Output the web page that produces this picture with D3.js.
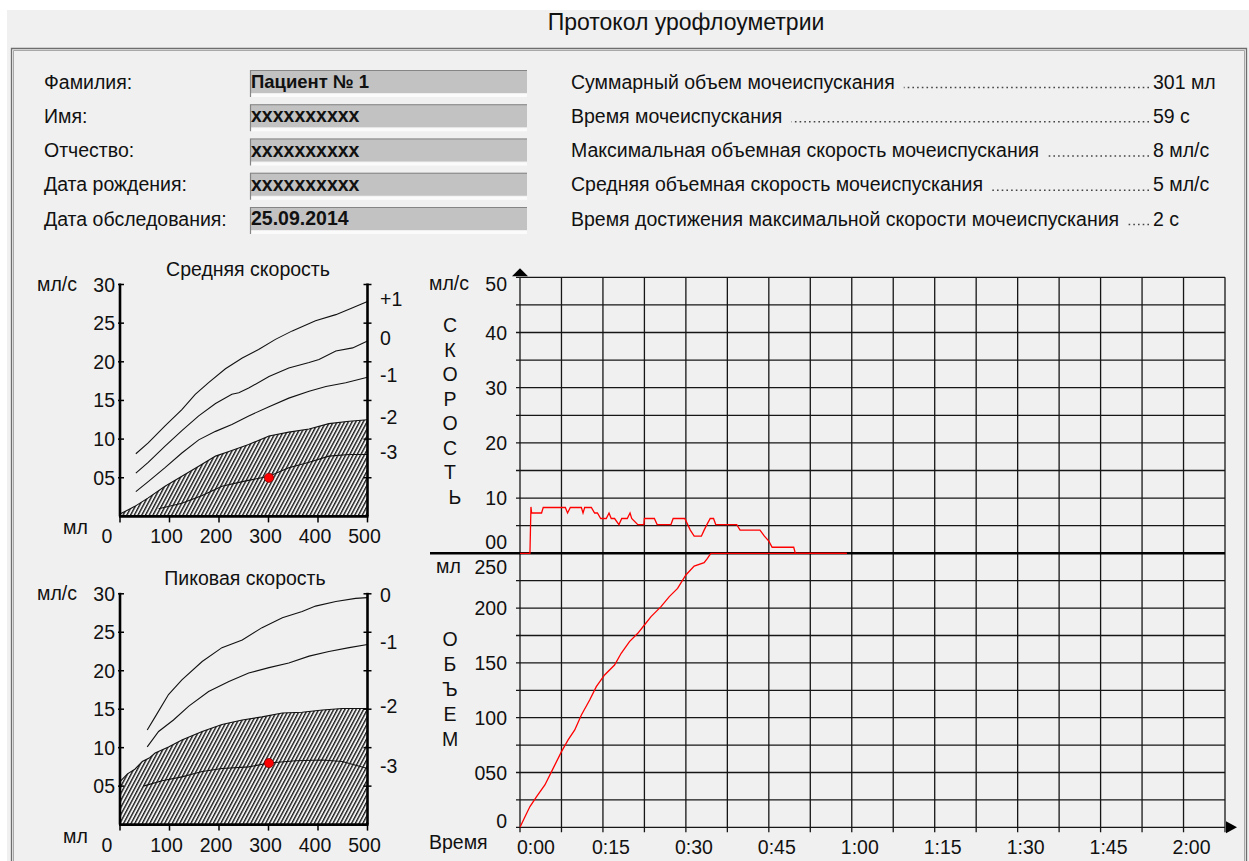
<!DOCTYPE html>
<html><head><meta charset="utf-8">
<script src="https://cdn.jsdelivr.net/npm/d3@7"></script>
<style>
html,body{margin:0;padding:0;background:#fff;}
svg{display:block;font-family:"Liberation Sans",Arial,sans-serif;}
</style></head><body>
<svg id="c" width="1249" height="861"></svg>
<script>
// ---------------- DATA ----------------
const titleText = "Протокол урофлоуметрии";
const patientLabels = ["Фамилия:", "Имя:", "Отчество:", "Дата рождения:", "Дата обследования:"];
const patientValues = ["Пациент № 1", "xxxxxxxxxx", "xxxxxxxxxx", "xxxxxxxxxx", "25.09.2014"];
const summaryLabels = [
  "Суммарный объем мочеиспускания",
  "Время мочеиспускания",
  "Максимальная объемная скорость мочеиспускания",
  "Средняя объемная скорость мочеиспускания",
  "Время достижения максимальной скорости мочеиспускания"
];
const summaryValues = ["301 мл", "59 с", "8 мл/с", "5 мл/с", "2 с"];

// flow (ml/s) vs time (s)
const flowSeries = [[0,0],[1.8,0],[1.98,8.4],[2.1,7.3],[3.9,7.3],[4.2,8.3],[8.2,8.3],[8.6,7.3],[9.1,8.3],[11.1,8.3],[11.4,7.3],[11.7,8.3],[12.9,8.3],[13.5,7.3],[14.0,7.3],[14.6,6.3],[15.6,6.3],[16.1,7.3],[16.5,6.3],[17.1,6.3],[17.9,5.2],[18.4,6.3],[19.4,6.3],[19.9,7.3],[20.2,6.3],[21.3,5.2],[22.4,5.2],[22.5,6.3],[24.3,6.3],[24.8,5.2],[27.3,5.2],[27.7,6.3],[29.8,6.3],[30.8,4.2],[31.5,3.1],[32.8,3.1],[33.3,4.2],[33.8,5.2],[34.4,6.3],[35.0,6.3],[35.4,5.2],[39.2,5.2],[39.8,4.2],[43.4,4.2],[44.2,3.1],[45.0,2.2],[45.6,1.1],[49.5,1.1],[49.8,0],[59.1,0]];
// voided volume (ml) vs time (s); chart clips at 250 ml
const volumeSeries = [[0,0],[0.9,9.7],[1.8,18.9],[3.0,28],[4.5,38.6],[5.7,50.8],[7.5,69],[8.7,79.7],[9.9,88.8],[11.1,102.5],[12.6,116.2],[13.8,128.3],[15.3,139],[17.1,148.1],[18.3,158.8],[19.8,169.4],[21.3,177],[22.5,184.6],[23.7,192.2],[25.5,201.3],[27.0,210.5],[28.5,218],[30.0,230.2],[31.5,238.4],[33.3,241.5],[33.9,245.4],[34.5,250],[59.1,301]];

const speedTicks = [0, 10, 20, 30, 40, 50];
const speedTickLabels = ["00", "10", "20", "30", "40", "50"];
const volumeTicks = [0, 50, 100, 150, 200, 250];
const volumeTickLabels = ["0", "050", "100", "150", "200", "250"];
const timeTicks = [0, 15, 30, 45, 60, 75, 90, 105, 120];
const timeTickLabels = ["0:00", "0:15", "0:30", "0:45", "1:00", "1:15", "1:30", "1:45", "2:00"];
const speedWord = ["С", "К", "О", "Р", "О", "С", "Т", "Ь"];
const volumeWord = ["О", "Б", "Ъ", "Е", "М"];

// nomogram: mean flow vs volume
const avgLevelLabels = ["+1", "0", "-1", "-2", "-3"];
const avgP1 = [[32,8.1],[57,9.5],[91,11.7],[125,13.8],[152,15.8],[179,17.3],[213,19.1],[247,20.5],[280,21.6],[314,22.9],[348,24.0],[395,25.3],[436,26.1],[470,27.0],[500,27.8]];
const avg0  = [[32,5.6],[57,7.0],[91,9.1],[125,11.1],[159,13.0],[193,14.6],[226,15.8],[240,16.0],[260,16.6],[301,18.1],[341,19.2],[382,19.9],[402,20.3],[436,21.4],[470,21.8],[500,22.7]];
const avgM1 = [[32,3.2],[57,4.5],[91,6.3],[125,8.2],[159,9.9],[193,11.0],[226,11.9],[260,13.0],[301,14.2],[341,15.3],[382,16.2],[416,16.8],[456,17.3],[500,18.0]];
const avgM2 = [[0,0.3],[30,1.3],[57,2.4],[91,3.9],[125,5.2],[159,6.5],[193,7.8],[220,8.4],[260,9.3],[301,10.4],[341,10.9],[382,11.3],[422,12.0],[463,12.3],[500,12.5]];
const avgM3 = [[78,1.0],[125,1.7],[166,2.7],[206,3.9],[247,4.5],[301,5.2],[341,6.3],[382,7.0],[422,7.8],[463,8.0],[500,8.0]];
// nomogram: peak flow vs volume
const peakLevelLabels = ["0", "-1", "-2", "-3"];
const pk0  = [[55,12.3],[71,14.0],[98,16.9],[125,18.8],[166,21.2],[206,23.0],[247,24.0],[287,25.6],[328,26.9],[368,27.7],[395,28.4],[436,29.0],[476,29.4],[500,29.5]];
const pkM1 = [[55,10.1],[78,12.1],[108,13.6],[139,15.4],[179,17.3],[220,18.6],[260,19.7],[301,20.4],[341,21.0],[382,21.9],[422,22.5],[463,23.0],[500,23.4]];
const pkM2 = [[0,5.6],[15,6.6],[30,7.2],[45,8.2],[60,8.7],[71,9.3],[98,10.1],[125,11.0],[166,12.1],[206,13.0],[247,13.6],[287,14.0],[328,14.5],[368,14.6],[409,14.9],[449,15.1],[500,15.1]];
const pkM3 = [[47,5.0],[85,5.7],[125,6.2],[166,6.9],[206,7.3],[260,7.5],[301,8.0],[355,8.3],[409,8.4],[449,8.2],[500,7.3]];
const nomoVolTicks = [0, 100, 200, 300, 400, 500];
const nomoFlowTicks = [5, 10, 15, 20, 25, 30];
const nomoFlowLabels = ["05", "10", "15", "20", "25", "30"];
const patientPointAvg = [301, 5];
const patientPointPeak = [301, 8];

// ---------------- DRAW ----------------
const svg = d3.select("#c");
const FS = 19.5;
const defs = svg.append("defs");
const pat = defs.append("pattern").attr("id", "hatch").attr("patternUnits", "userSpaceOnUse")
  .attr("width", 3.3).attr("height", 10).attr("patternTransform", "rotate(28)");
pat.append("rect").attr("width", 3.3).attr("height", 10).attr("fill", "#f0f0f0");
pat.append("line").attr("x1", 0.7).attr("x2", 0.7).attr("y1", 0).attr("y2", 10)
  .attr("stroke", "#0e0e0e").attr("stroke-width", 1.3);

svg.append("rect").attr("width", 1249).attr("height", 861).attr("fill", "#fff");
svg.append("rect").attr("x", 7).attr("y", 10).attr("width", 1242).attr("height", 851).attr("fill", "#f0f0f0");
svg.append("path").attr("d", "M11.5,861 V48.5 H1246.5 V861").attr("fill", "none").attr("stroke", "#6e6e6e").attr("stroke-width", 1.3);
svg.append("path").attr("d", "M13.5,861 V50.5 H1244.5 V861").attr("fill", "none").attr("stroke", "#a8a8a8").attr("stroke-width", 1);

svg.append("text").attr("x", 686).attr("y", 30).attr("text-anchor", "middle")
  .attr("font-size", 23).attr("fill", "#111").text(titleText);

// header rows
const rowTop = i => 70 + i * 34.25;
patientLabels.forEach((lab, i) => {
  const y = rowTop(i);
  svg.append("text").attr("x", 44).attr("y", y + 18.5).attr("font-size", FS).attr("fill", "#111").text(lab);
  svg.append("rect").attr("x", 250).attr("y", y).attr("width", 277).attr("height", 23).attr("fill", "#c2c2c2");
  svg.append("rect").attr("x", 251).attr("y", y + 24).attr("width", 276).attr("height", 3).attr("fill", "#fbfbfb");
  svg.append("path").attr("d", `M250.5,${y + 27} V${y + 0.5} H527`).attr("fill", "none").attr("stroke", "#858585").attr("stroke-width", 1.2);
  svg.append("text").attr("x", 251).attr("y", y + 18).attr("font-size", i === 0 ? 18.5 : FS).attr("font-weight", "bold")
    .attr("fill", "#111").text(patientValues[i]);
});
summaryLabels.forEach((lab, i) => {
  const y = rowTop(i) + 18.5;
  const t = svg.append("text").attr("x", 571).attr("y", y).attr("font-size", FS).attr("fill", "#111").text(lab);
  const len = t.node().getComputedTextLength();
  svg.append("line").attr("x1", 1149).attr("x2", 571 + len + 9).attr("y1", y - 1).attr("y2", y - 1)
    .attr("stroke", "#444").attr("stroke-width", 1.6).attr("stroke-dasharray", "1.6 3.1");
  svg.append("text").attr("x", 1153).attr("y", y).attr("font-size", FS).attr("fill", "#111").text(summaryValues[i]);
});

// ---------- main chart ----------
const xT = d3.scaleLinear().domain([0, 127.5]).range([520, 1225]);
const yS = d3.scaleLinear().domain([0, 50]).range([553.3, 277.3]);
const yV = d3.scaleLinear().domain([0, 250]).range([827.3, 553.3]).clamp(true);
const main = svg.append("g");
const GRID = "#161616";
const gridT = d3.range(0, 127.5 + 1e-6, 7.5);
main.selectAll("line.vg").data(gridT).join("line")
  .attr("x1", d => xT(d)).attr("x2", d => xT(d)).attr("y1", yS(50)).attr("y2", yV(0) + 5)
  .attr("stroke", GRID).attr("stroke-width", 1.3);
main.selectAll("line.hs").data(d3.range(5, 50.01, 5)).join("line")
  .attr("x1", xT(0) - 4).attr("x2", xT(127.5)).attr("y1", d => yS(d)).attr("y2", d => yS(d))
  .attr("stroke", GRID).attr("stroke-width", 1.3);
main.selectAll("line.hv").data(d3.range(0, 225.01, 25)).join("line")
  .attr("x1", xT(0) - 4).attr("x2", xT(127.5)).attr("y1", d => yV(d)).attr("y2", d => yV(d))
  .attr("stroke", GRID).attr("stroke-width", 1.3);
// thick separator
main.append("line").attr("x1", 430).attr("x2", xT(127.5)).attr("y1", yS(0)).attr("y2", yS(0))
  .attr("stroke", "#000").attr("stroke-width", 2.6);
// arrows
main.append("path").attr("d", `M${xT(0) - 8},${yS(50) - 1} L${xT(0) + 8},${yS(50) - 1} L${xT(0)},${yS(50) - 9}Z`).attr("fill", "#000");
main.append("path").attr("d", `M${xT(127.5) + 1},${yV(0) - 6} L${xT(127.5) + 1},${yV(0) + 6} L${xT(127.5) + 12},${yV(0)}Z`).attr("fill", "#000");

// labels
speedTicks.forEach((v, i) => {
  const dy = v === 50 ? 13.5 : (v === 0 ? -4 : 7);
  main.append("text").attr("x", 507).attr("y", yS(v) + dy).attr("text-anchor", "end")
    .attr("font-size", FS).attr("fill", "#111").text(speedTickLabels[i]);
});
volumeTicks.forEach((v, i) => {
  const dy = v === 250 ? 20.5 : (v === 0 ? 1 : 7);
  main.append("text").attr("x", 507).attr("y", yV(v) + dy).attr("text-anchor", "end")
    .attr("font-size", FS).attr("fill", "#111").text(volumeTickLabels[i]);
});
timeTicks.forEach((t, i) => {
  main.append("text").attr("x", xT(t) + (i === 0 ? 16 : 8)).attr("y", 854).attr("text-anchor", "middle")
    .attr("font-size", FS).attr("fill", "#111").text(timeTickLabels[i]);
});
main.append("text").attr("x", 429).attr("y", 290).attr("font-size", FS).attr("fill", "#111").text("мл/с");
main.append("text").attr("x", 436).attr("y", 573).attr("font-size", FS).attr("fill", "#111").text("мл");
main.append("text").attr("x", 429).attr("y", 849).attr("font-size", FS).attr("fill", "#111").text("Время");
speedWord.forEach((ch, i) => {
  main.append("text").attr("x", ch === "Ь" ? 455 : 450).attr("y", 332 + i * 24.5).attr("text-anchor", "middle")
    .attr("font-size", FS).attr("fill", "#111").text(ch);
});
volumeWord.forEach((ch, i) => {
  main.append("text").attr("x", 450).attr("y", 646 + i * 25).attr("text-anchor", "middle")
    .attr("font-size", FS).attr("fill", "#111").text(ch);
});
// curves
main.append("path").datum(volumeSeries)
  .attr("d", d3.line().x(d => xT(d[0])).y(d => yV(d[1])))
  .attr("fill", "none").attr("stroke", "#ff0000").attr("stroke-width", 1.3);
main.append("path").datum(flowSeries)
  .attr("d", d3.line().x(d => xT(d[0])).y(d => yS(d[1])))
  .attr("fill", "none").attr("stroke", "#ff0000").attr("stroke-width", 1.3);

// ---------- nomograms ----------
function nomogram(cfg) {
  const g = svg.append("g");
  const x = d3.scaleLinear().domain([0, 500]).range([120, 367.5]);
  const y = d3.scaleLinear().domain([0, 30]).range([cfg.bottom, cfg.top]);
  g.append("path").datum(cfg.hatch)
    .attr("d", d3.area().x(d => x(d[0])).y0(y(0)).y1(d => y(d[1])))
    .attr("fill", "url(#hatch)");
  const line = d3.line().x(d => x(d[0])).y(d => y(d[1]));
  cfg.curves.forEach(c => {
    g.append("path").datum(c).attr("d", line).attr("fill", "none").attr("stroke", "#111").attr("stroke-width", 1.1);
  });
  // axes
  g.append("line").attr("x1", x(0)).attr("x2", x(0)).attr("y1", y(30) - 1).attr("y2", y(0)).attr("stroke", "#000").attr("stroke-width", 2.6);
  g.append("line").attr("x1", x(500)).attr("x2", x(500)).attr("y1", y(30) - 1).attr("y2", y(0)).attr("stroke", "#000").attr("stroke-width", 2.6);
  g.append("line").attr("x1", x(0) - 1).attr("x2", x(500) + 1).attr("y1", y(0)).attr("y2", y(0)).attr("stroke", "#000").attr("stroke-width", 2.6);
  nomoFlowTicks.forEach((v, i) => {
    g.append("line").attr("x1", x(0) - 2).attr("x2", x(0) + 4).attr("y1", y(v)).attr("y2", y(v)).attr("stroke", "#000").attr("stroke-width", 1.5);
    g.append("line").attr("x1", x(500) - 4).attr("x2", x(500) + 4).attr("y1", y(v)).attr("y2", y(v)).attr("stroke", "#000").attr("stroke-width", 1.5);
    g.append("text").attr("x", 115).attr("y", y(v) + 7).attr("text-anchor", "end")
      .attr("font-size", FS).attr("fill", "#111").text(nomoFlowLabels[i]);
  });
  nomoVolTicks.forEach(v => {
    g.append("line").attr("x1", x(v)).attr("x2", x(v)).attr("y1", y(0)).attr("y2", y(0) + 6).attr("stroke", "#000").attr("stroke-width", 1.5);
    g.append("text").attr("x", x(v) + (v === 0 ? -13 : -3)).attr("y", y(0) + 27).attr("text-anchor", "middle")
      .attr("font-size", FS).attr("fill", "#111").text(String(v));
  });
  g.append("text").attr("x", 63).attr("y", y(0) + 18).attr("font-size", FS).attr("fill", "#111").text("мл");
  g.append("text").attr("x", 37).attr("y", y(30) + 6).attr("font-size", FS).attr("fill", "#111").text("мл/с");
  g.append("text").attr("x", cfg.titleX).attr("y", y(30) - 9).attr("text-anchor", "middle")
    .attr("font-size", FS).attr("fill", "#111").text(cfg.title);
  cfg.levelCurves.forEach((c, i) => {
    const last = c[c.length - 1];
    g.append("text").attr("x", 380).attr("y", Math.max(y(last[1]) + 4.5, y(30) + 2)).attr("font-size", FS)
      .attr("fill", "#111").text(cfg.levels[i]);
  });
  g.append("circle").attr("cx", x(cfg.point[0])).attr("cy", y(cfg.point[1])).attr("r", 4.6)
    .attr("fill", "#ff0000").attr("stroke", "#8a0000").attr("stroke-width", 0.8);
}
nomogram({
  title: "Средняя скорость", titleX: 248, top: 284.5, bottom: 516.4,
  hatch: avgM2, curves: [avgP1, avg0, avgM1, avgM2, avgM3],
  levelCurves: [avgP1, avg0, avgM1, avgM2, avgM3], levels: avgLevelLabels, point: patientPointAvg
});
nomogram({
  title: "Пиковая скорость", titleX: 245, top: 593.8, bottom: 824.6,
  hatch: pkM2, curves: [pk0, pkM1, pkM2, pkM3],
  levelCurves: [pk0, pkM1, pkM2, pkM3], levels: peakLevelLabels, point: patientPointPeak
});
</script>
</body></html>
